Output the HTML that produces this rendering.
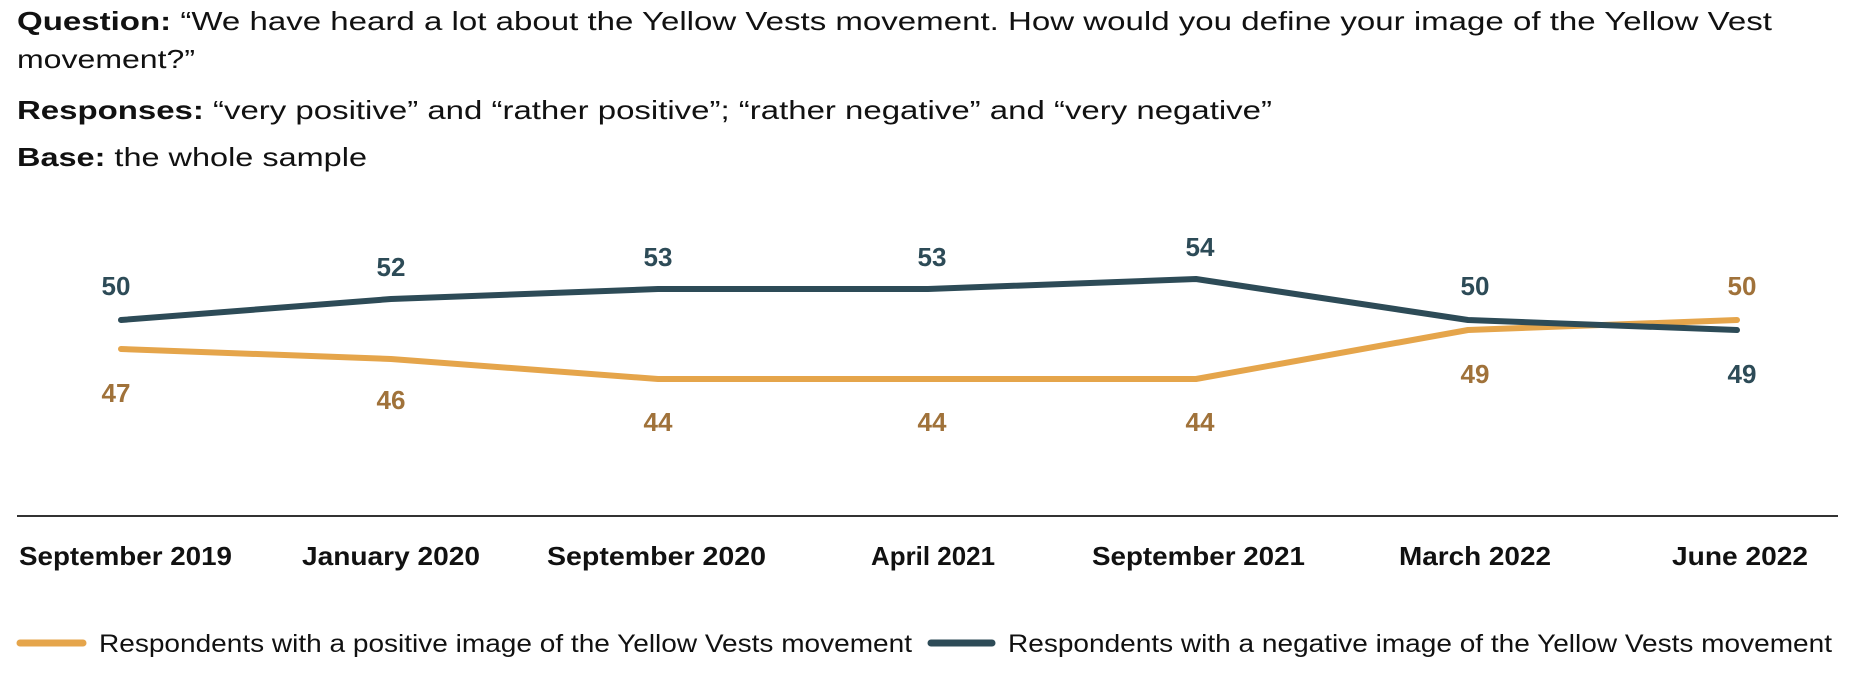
<!DOCTYPE html>
<html><head><meta charset="utf-8"><style>
html,body{margin:0;padding:0;background:#fff;}
svg{display:block;font-family:"Liberation Sans",sans-serif;}
</style></head><body>
<svg width="1856" height="676" viewBox="0 0 1856 676" xmlns="http://www.w3.org/2000/svg">
<g font-size="26" fill="#111">
<text x="17" y="30" textLength="1755" lengthAdjust="spacingAndGlyphs"><tspan font-weight="bold">Question:</tspan> “We have heard a lot about the Yellow Vests movement. How would you define your image of the Yellow Vest</text>
<text x="17" y="68" textLength="178" lengthAdjust="spacingAndGlyphs">movement?”</text>
<text x="17" y="119" textLength="1255" lengthAdjust="spacingAndGlyphs"><tspan font-weight="bold">Responses:</tspan> “very positive” and “rather positive”; “rather negative” and “very negative”</text>
<text x="17" y="166" textLength="350" lengthAdjust="spacingAndGlyphs"><tspan font-weight="bold">Base:</tspan> the whole sample</text>
</g>
<polyline points="121,349 391,359 658,379 928,379 1196,379 1468,330 1737,320" fill="none" stroke="#e5a54b" stroke-width="6" stroke-linecap="round" stroke-linejoin="round"/>
<polyline points="121,320 391,299 658,289 928,289 1196,279 1468,320 1737,330" fill="none" stroke="#2d4b57" stroke-width="6" stroke-linecap="round" stroke-linejoin="round"/>
<g font-size="26" font-weight="bold" text-anchor="middle" fill="#2d4b57">
<text x="116" y="295">50</text><text x="391" y="276">52</text><text x="658" y="266">53</text><text x="932" y="266">53</text><text x="1200" y="256">54</text><text x="1475" y="295">50</text><text x="1742" y="383">49</text>
</g>
<g font-size="26" font-weight="bold" text-anchor="middle" fill="#a0723a">
<text x="116" y="402">47</text><text x="391" y="409">46</text><text x="658" y="431">44</text><text x="932" y="431">44</text><text x="1200" y="431">44</text><text x="1475" y="383">49</text><text x="1742" y="295">50</text>
</g>
<line x1="17" y1="516" x2="1838" y2="516" stroke="#333" stroke-width="2"/>
<g font-size="26" font-weight="bold" fill="#111">
<text x="19" y="565" textLength="213" lengthAdjust="spacingAndGlyphs">September 2019</text>
<text x="302" y="565" textLength="178" lengthAdjust="spacingAndGlyphs">January 2020</text>
<text x="547" y="565" textLength="219" lengthAdjust="spacingAndGlyphs">September 2020</text>
<text x="871" y="565" textLength="124" lengthAdjust="spacingAndGlyphs">April 2021</text>
<text x="1092" y="565" textLength="213" lengthAdjust="spacingAndGlyphs">September 2021</text>
<text x="1399" y="565" textLength="152" lengthAdjust="spacingAndGlyphs">March 2022</text>
<text x="1672" y="565" textLength="136" lengthAdjust="spacingAndGlyphs">June 2022</text>
</g>
<line x1="20" y1="643" x2="83" y2="643" stroke="#e5a54b" stroke-width="7" stroke-linecap="round"/>
<line x1="931" y1="643" x2="992" y2="643" stroke="#2d4b57" stroke-width="7" stroke-linecap="round"/>
<g font-size="25" fill="#111">
<text x="99" y="652" textLength="813" lengthAdjust="spacingAndGlyphs">Respondents with a positive image of the Yellow Vests movement</text>
<text x="1008" y="652" textLength="824" lengthAdjust="spacingAndGlyphs">Respondents with a negative image of the Yellow Vests movement</text>
</g>
</svg>
</body></html>
